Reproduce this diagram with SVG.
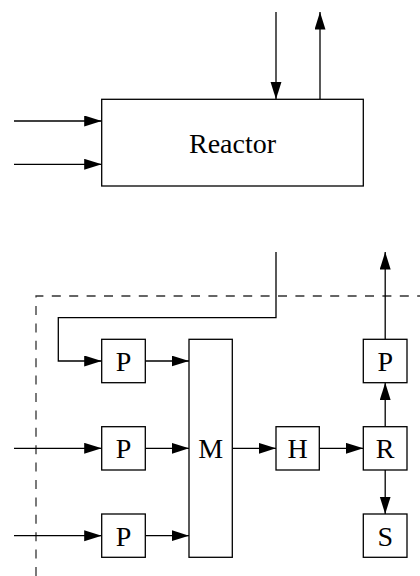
<svg xmlns="http://www.w3.org/2000/svg" width="420" height="576" viewBox="0 0 420 576">
<defs>
<marker id="ah" markerUnits="userSpaceOnUse" markerWidth="18" markerHeight="12" refX="17.5" refY="5.5" orient="auto">
<path d="M0,0 L17.5,5.5 L0,11 Z" fill="#000"/>
</marker>
</defs>
<style>
.box{fill:#fff;stroke:#000;stroke-width:1.3}
.ar{fill:none;stroke:#000;stroke-width:1.3;marker-end:url(#ah)}
.dash{fill:none;stroke:#333;stroke-width:1.3;stroke-dasharray:9 8.4}
text{font-family:"Liberation Serif","Times New Roman",serif;fill:#000;text-anchor:middle;font-size:28px}
</style>
<rect width="420" height="576" fill="#fff"/>
<g id="boundary">
<path class="dash" d="M36,576 L36,296 L420,296"/>
</g>
<g id="connectors">
<line class="ar" x1="14" y1="121" x2="101.7" y2="121"/>
<line class="ar" x1="14" y1="164.3" x2="101.7" y2="164.3"/>
<line class="ar" x1="276" y1="12" x2="276" y2="99.3"/>
<line class="ar" x1="320" y1="99.3" x2="320" y2="12"/>
<path class="ar" d="M276,252 L276,317.7 L58.3,317.7 L58.3,361 L101.7,361"/>
<line class="ar" x1="14" y1="448.3" x2="101.7" y2="448.3"/>
<line class="ar" x1="14" y1="535.7" x2="101.7" y2="535.7"/>
<line class="ar" x1="145.3" y1="361" x2="189" y2="361"/>
<line class="ar" x1="145.3" y1="448.3" x2="189" y2="448.3"/>
<line class="ar" x1="145.3" y1="535.7" x2="189" y2="535.7"/>
<line class="ar" x1="232.3" y1="448.3" x2="276" y2="448.3"/>
<line class="ar" x1="319.3" y1="448.3" x2="363.3" y2="448.3"/>
<line class="ar" x1="385.2" y1="426.7" x2="385.2" y2="382.7"/>
<line class="ar" x1="385.2" y1="470" x2="385.2" y2="514"/>
<line class="ar" x1="385.2" y1="339.3" x2="385.2" y2="252"/>
</g>
<g id="reactor">
<rect class="box" x="101.7" y="99.3" width="261.6" height="86.7"/>
<text x="232.5" y="152.7">Reactor</text>
</g>
<g id="p1">
<rect class="box" x="101.7" y="339.3" width="43.6" height="43.4"/>
<text x="123.5" y="371">P</text>
</g>
<g id="p2">
<rect class="box" x="101.7" y="426.7" width="43.6" height="43.3"/>
<text x="123.5" y="458.3">P</text>
</g>
<g id="p3">
<rect class="box" x="101.7" y="514" width="43.6" height="43.3"/>
<text x="123.5" y="545.7">P</text>
</g>
<g id="m">
<rect class="box" x="189" y="339.3" width="43.3" height="218"/>
<text x="210.7" y="458.3">M</text>
</g>
<g id="h">
<rect class="box" x="276" y="426.7" width="43.3" height="43.3"/>
<text x="297.7" y="458.3">H</text>
</g>
<g id="r">
<rect class="box" x="363.3" y="426.7" width="43.7" height="43.3"/>
<text x="385.2" y="458.3">R</text>
</g>
<g id="p4">
<rect class="box" x="363.3" y="339.3" width="43.7" height="43.4"/>
<text x="385.2" y="371">P</text>
</g>
<g id="s">
<rect class="box" x="363.3" y="514" width="43.7" height="43.3"/>
<text x="385.2" y="545.7">S</text>
</g>
</svg>
